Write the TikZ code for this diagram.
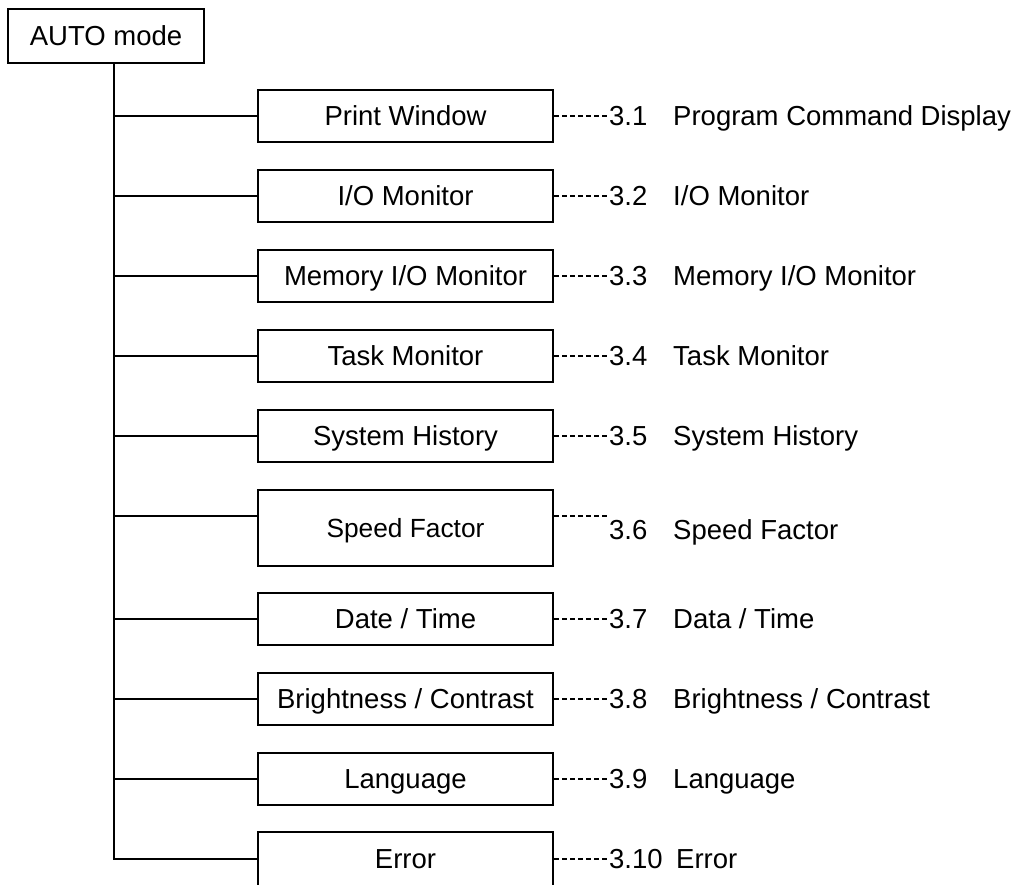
\documentclass[tikz,border=0pt]{standalone}
\usepackage{fontspec}
\setmainfont{Liberation Sans}
\begin{document}
\begin{tikzpicture}[x=1pt,y=-1pt,
  txt/.style={font=\fontsize{27.5}{33}\selectfont,text height=19.7pt,text depth=0pt},
  box/.style={txt,draw,line width=2pt,minimum width=295pt,minimum height=52pt,inner sep=0pt},
  lbl/.style={txt,anchor=west,inner sep=0pt},
  link/.style={line width=2pt},
  dots/.style={line width=1.3pt,dash pattern=on 4.5pt off 3.5pt}]
\clip (0,0) rectangle (1022,884);
% root
\node[txt,draw,line width=2pt,minimum width=196pt,minimum height=54pt,inner sep=0pt] (auto) at (106,36) {AUTO mode};
% branch points on the trunk
\coordinate (b1) at (114,116);
\coordinate (b2) at (114,196);
\coordinate (b3) at (114,276);
\coordinate (b4) at (114,356);
\coordinate (b5) at (114,436);
\coordinate (b6) at (114,516);
\coordinate (b7) at (114,619);
\coordinate (b8) at (114,699);
\coordinate (b9) at (114,779);
\coordinate (b10) at (114,859);
% boxes
\node[box] (pw) at (405.5,116) {Print Window};
\node[box] (io) at (405.5,196) {I/O Monitor};
\node[box] (mio) at (405.5,276) {Memory I/O Monitor};
\node[box] (tm) at (405.5,356) {Task Monitor};
\node[box] (sh) at (405.5,436) {System History};
\node[box,minimum height=76pt,font=\fontsize{26.3}{32}\selectfont,text height=18.8pt] (sf) at (405.5,528) {Speed Factor};
\node[box] (dt) at (405.5,619) {Date / Time};
\node[box] (bc) at (405.5,699) {Brightness / Contrast};
\node[box] (lg) at (405.5,779) {Language};
\node[box,minimum height=54pt] (er) at (405.5,859) {Error};
% labels
\node[lbl] (n1) at (609,116) {3.1};  \node[lbl] (t1) at (673,116) {Program Command Display};
\node[lbl] (n2) at (609,196) {3.2};  \node[lbl] (t2) at (673,196) {I/O Monitor};
\node[lbl] (n3) at (609,276) {3.3};  \node[lbl] (t3) at (673,276) {Memory I/O Monitor};
\node[lbl] (n4) at (609,356) {3.4};  \node[lbl] (t4) at (673,356) {Task Monitor};
\node[lbl] (n5) at (609,436) {3.5};  \node[lbl] (t5) at (673,436) {System History};
\node[lbl] (n6) at (609,530) {3.6};  \node[lbl] (t6) at (673,530) {Speed Factor};
\node[lbl] (n7) at (609,619) {3.7};  \node[lbl] (t7) at (673,619) {Data / Time};
\node[lbl] (n8) at (609,699) {3.8};  \node[lbl] (t8) at (673,699) {Brightness / Contrast};
\node[lbl] (n9) at (609,779) {3.9};  \node[lbl] (t9) at (673,779) {Language};
\node[lbl] (n10) at (609,859) {3.10}; \node[lbl] (t10) at (676,859) {Error};
% trunk
\draw[link] (auto.south -| b1) -- (b10) -- (er.west);
\foreach \b/\n in {b1/pw,b2/io,b3/mio,b4/tm,b5/sh,b6/sf,b7/dt,b8/bc,b9/lg}
  \draw[link] (\b) -- (\b -| \n.west);
% dotted leaders
\foreach \b/\n/\m in {b1/pw/n1,b2/io/n2,b3/mio/n3,b4/tm/n4,b5/sh/n5,b6/sf/n6,b7/dt/n7,b8/bc/n8,b9/lg/n9,b10/er/n10}
  \draw[dots] (\b -| \n.east) -- ([xshift=-2pt]\b -| \m.west);
\end{tikzpicture}
\end{document}
